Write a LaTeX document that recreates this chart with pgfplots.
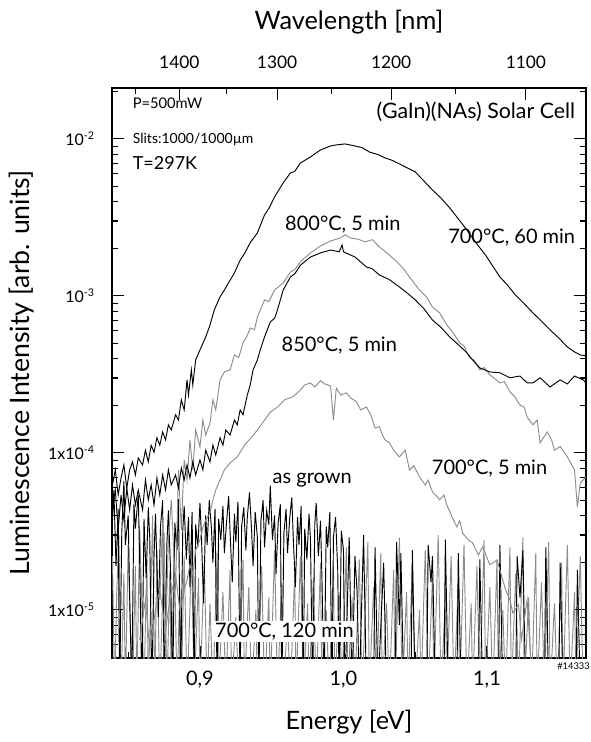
\documentclass[border=0pt]{standalone}
\usepackage{fontspec}
\setmainfont{Lato}
\usepackage{pgfplots}
\pgfplotsset{compat=1.18}
\definecolor{lgray}{gray}{0.55}
\begin{document}
\begin{tikzpicture}
\useasboundingbox (-84pt,-63pt) rectangle (359.25pt,493.5pt);
% top axis: wavelength scale (tick positions = 1239.84/lambda)
\begin{axis}[
  at={(0,0)}, anchor=south west,
  scale only axis, width=355.5pt, height=427.5pt,
  xmin=0.8387, xmax=1.169, ymin=0, ymax=1,
  axis x line*=top, axis y line=none,
  axis line style={line width=1pt},
  tick style={black, line width=0.8pt},
  tick align=inside,
  major tick length=9pt, minor tick length=4.5pt,
  xtick={0.885600,0.953723,1.033200,1.127127},
  xticklabels={1400,1300,1200,1100},
  minor xtick={0.855062,0.918400,0.991872,1.078122},
  xticklabel style={anchor=center, yshift=19.5pt, font=\fontsize{13}{15}\selectfont},
  xlabel={Wavelength [nm]},
  xlabel style={at={(rel axis cs:0.5,1.116)}, anchor=center, font=\fontsize{19}{22}\selectfont},
]
\end{axis}
\begin{axis}[
  at={(0,0)}, anchor=south west,
  scale only axis, width=355.5pt, height=427.5pt,
  xmin=0.8387, xmax=1.169,
  ymode=log, ymin=4.94e-6, ymax=2.11e-2,
  axis line style={line width=1pt},
  tick style={black, line width=0.8pt},
  tick align=inside,
  major tick length=9pt, minor tick length=4.5pt,
  xtick pos=left, ytick pos=both, yticklabel pos=left,
  xtick={0.9,1.0,1.1}, xticklabels={{0,9},{1,0},{1,1}},
  minor xtick={0.85,0.95,1.05,1.15},
  ytick={1e-5,1e-4,1e-3,1e-2},
  yticklabels={1x10\textsuperscript{-5},1x10\textsuperscript{-4},10\textsuperscript{-3},10\textsuperscript{-2}},
  minor ytick={6e-6,7e-6,8e-6,9e-6,2e-5,3e-5,4e-5,5e-5,6e-5,7e-5,8e-5,9e-5,
    2e-4,3e-4,4e-4,5e-4,6e-4,7e-4,8e-4,9e-4,2e-3,3e-3,4e-3,5e-3,6e-3,7e-3,8e-3,9e-3,2e-2},
  xticklabel style={anchor=center, yshift=-16.5pt, font=\fontsize{15}{17}\selectfont},
  yticklabel style={anchor=east, inner sep=0pt, xshift=-12.75pt, font=\fontsize{12}{14}\selectfont},
  xlabel={Energy [eV]},
  xlabel style={at={(rel axis cs:0.5,-0.112)}, anchor=center, font=\fontsize{19}{22}\selectfont},
  ylabel={Luminescence Intensity [arb. units]},
  ylabel style={at={(rel axis cs:-0.19,0.5)}, anchor=center, font=\fontsize{20}{23}\selectfont},
  every axis plot/.append style={line width=0.7pt},
]
% 700 C, 120 min
\addplot[lgray] coordinates {
(0.839,2.2e-5)(0.8405,3.0e-6)(0.842,1.3e-5)(0.8435,3.0e-5)(0.845,3.0e-6)(0.847,1.7e-5)
(0.848,3.0e-6)(0.850,2.6e-5)(0.8515,8.0e-6)(0.853,3.0e-6)(0.855,1.9e-5)(0.856,3.0e-6)
(0.858,3.4e-5)(0.8595,1.1e-5)(0.861,3.0e-6)(0.863,2.1e-5)(0.864,3.0e-6)(0.866,1.5e-5)
(0.867,4.0e-5)(0.8685,3.0e-6)(0.870,2.4e-5)(0.872,3.0e-6)(0.874,1.2e-5)(0.875,3.1e-5)
(0.877,3.0e-6)(0.879,1.8e-5)(0.880,3.0e-6)(0.882,2.7e-5)(0.884,3.0e-6)(0.886,1.4e-5)
(0.887,3.0e-6)(0.889,2.2e-5)(0.891,3.0e-6)(0.893,1.0e-5)(0.894,2.5e-5)(0.896,3.0e-6)
(0.899,1.6e-5)(0.900,3.0e-6)(0.903,2.0e-5)(0.905,3.0e-6)(0.907,1.1e-5)(0.909,3.0e-6)
(0.912,2.3e-5)(0.913,3.0e-6)(0.916,1.3e-5)(0.918,3.0e-6)(0.921,1.8e-5)(0.922,3.0e-6)
(0.925,9.0e-6)(0.927,3.0e-6)(0.930,2.1e-5)(0.931,3.0e-6)(0.934,1.4e-5)(0.936,3.0e-6)
(0.939,1.0e-5)(0.940,3.0e-6)(0.943,1.9e-5)(0.945,3.0e-6)(0.948,1.2e-5)(0.949,3.0e-6)
(0.952,2.4e-5)(0.954,3.0e-6)(0.957,1.5e-5)(0.958,3.0e-6)(0.961,8.5e-6)(0.963,3.0e-6)
(0.966,1.7e-5)(0.967,3.0e-6)(0.970,2.2e-5)(0.972,3.0e-6)(0.975,1.1e-5)(0.976,3.0e-6)
(0.979,1.6e-5)(0.981,3.0e-6)(0.984,2.0e-5)(0.985,3.0e-6)(0.988,1.0e-5)(0.990,3.0e-6)
(0.993,1.9e-5)(0.994,3.0e-6)(0.997,1.3e-5)(0.999,3.0e-6)(1.002,2.5e-5)(1.003,3.0e-6)
(1.006,1.2e-5)(1.008,3.0e-6)(1.011,2.1e-5)(1.013,3.0e-6)(1.015,9.0e-6)(1.017,2.7e-5)
(1.018,3.0e-6)(1.021,1.4e-5)(1.023,3.0e-6)(1.026,2.3e-5)(1.027,3.0e-6)(1.030,1.1e-5)
(1.032,3.0e-6)(1.035,1.8e-5)(1.036,3.0e-6)(1.039,2.9e-5)(1.041,3.0e-6)(1.044,1.3e-5)
(1.045,3.0e-6)(1.048,2.0e-5)(1.050,3.0e-6)(1.053,1.0e-5)(1.054,3.0e-6)(1.057,2.4e-5)
(1.059,3.0e-6)(1.062,1.6e-5)(1.063,3.0e-6)(1.066,3.0e-5)(1.068,3.0e-6)(1.071,1.2e-5)
(1.072,3.0e-6)(1.075,2.2e-5)(1.077,3.0e-6)(1.080,1.5e-5)(1.081,3.0e-6)(1.084,2.6e-5)
(1.086,3.0e-6)(1.089,1.1e-5)(1.090,3.0e-6)(1.093,1.9e-5)(1.095,3.0e-6)(1.098,2.8e-5)
(1.099,3.0e-6)(1.102,1.4e-5)(1.104,3.0e-6)(1.107,2.1e-5)(1.108,3.0e-6)(1.111,1.0e-5)
(1.113,3.0e-6)(1.116,2.5e-5)(1.117,3.0e-6)(1.120,1.7e-5)(1.122,3.0e-6)(1.125,2.9e-5)
(1.126,3.0e-6)(1.129,1.2e-5)(1.131,3.0e-6)(1.134,2.3e-5)(1.135,3.0e-6)(1.138,1.5e-5)
(1.140,3.0e-6)(1.143,2.7e-5)(1.144,3.0e-6)(1.147,1.1e-5)(1.149,3.0e-6)(1.152,2.0e-5)
(1.153,3.0e-6)(1.156,2.6e-5)(1.158,3.0e-6)(1.161,1.3e-5)(1.162,3.0e-6)(1.165,2.2e-5)
(1.167,3.0e-6)
};
% as grown
\addplot[black] coordinates {
(0.839,3.6e-5)(0.840,5.8e-5)(0.8415,1.9e-5)(0.843,4.4e-5)(0.844,3.0e-6)(0.8455,3.1e-5)
(0.847,6.6e-5)(0.848,2.6e-5)(0.850,4.0e-5)(0.851,1.2e-5)(0.8525,3.0e-6)(0.854,4.7e-5)
(0.855,3.3e-5)(0.857,5.4e-5)(0.858,2.0e-5)(0.8595,3.0e-6)(0.861,3.8e-5)(0.8625,1.6e-5)
(0.864,4.5e-5)(0.865,2.9e-5)(0.8665,3.0e-6)(0.868,2.2e-5)(0.869,4.1e-5)(0.871,9.0e-6)
(0.8725,3.4e-5)(0.874,5.0e-5)(0.875,3.0e-6)(0.877,2.7e-5)(0.878,4.3e-5)(0.8795,1.8e-5)
(0.881,3.0e-6)(0.8825,3.6e-5)(0.884,2.4e-5)(0.885,5.1e-5)(0.8865,3.0e-6)(0.888,3.2e-5)
(0.889,4.6e-5)(0.8905,2.1e-5)(0.892,3.9e-5)(0.893,1.4e-5)(0.8945,4.2e-5)(0.896,3.0e-6)
(0.897,3.5e-5)(0.8985,2.5e-5)(0.900,4.8e-5)(0.901,3.0e-5)(0.9025,1.1e-5)(0.904,4.0e-5)
(0.905,2.6e-5)(0.9065,5.0e-5)(0.908,3.3e-5)(0.909,2.0e-5)(0.9105,4.4e-5)(0.912,3.0e-6)
(0.913,3.8e-5)(0.9145,2.8e-5)(0.916,4.6e-5)(0.917,2.3e-5)(0.9185,3.6e-5)(0.920,5.3e-5)
(0.921,3.1e-5)(0.9225,1.5e-5)(0.924,4.1e-5)(0.925,2.7e-5)(0.9265,4.9e-5)(0.928,3.0e-6)
(0.929,3.4e-5)(0.9305,4.5e-5)(0.932,2.4e-5)(0.933,3.9e-5)(0.9345,5.6e-5)(0.936,3.2e-5)
(0.937,1.9e-5)(0.9385,4.2e-5)(0.940,2.9e-5)(0.941,3.0e-6)(0.9425,3.7e-5)(0.944,5.0e-5)
(0.945,2.5e-5)(0.9465,4.3e-5)(0.948,3.5e-5)(0.949,6.2e-5)(0.9505,2.8e-5)(0.952,4.0e-5)
(0.953,1.7e-5)(0.9545,3.6e-5)(0.956,4.7e-5)(0.957,3.0e-6)(0.9585,3.1e-5)(0.960,4.4e-5)
(0.961,2.3e-5)(0.9625,3.8e-5)(0.964,5.2e-5)(0.965,2.9e-5)(0.9665,1.4e-5)(0.968,3.9e-5)
(0.969,2.6e-5)(0.9705,4.6e-5)(0.972,3.0e-6)(0.973,3.3e-5)(0.9745,2.1e-5)(0.976,4.1e-5)
(0.977,2.8e-5)(0.9785,3.0e-6)(0.980,3.5e-5)(0.981,4.8e-5)(0.9825,2.2e-5)(0.984,3.7e-5)
(0.985,1.6e-5)(0.9865,3.0e-6)(0.988,3.4e-5)(0.989,2.5e-5)(0.9905,4.2e-5)(0.992,3.0e-6)
(0.993,2.9e-5)(0.9945,3.9e-5)(0.996,1.8e-5)(0.997,3.0e-6)(0.9985,3.2e-5)(1.000,2.4e-5)
(1.001,3.0e-6)(1.004,2.9e-5)(1.006,3.0e-6)(1.008,2.2e-5)(1.0095,1.3e-5)(1.011,3.0e-6)
(1.014,3.0e-5)(1.016,3.0e-6)(1.021,3.0e-6)(1.022,2.5e-5)(1.024,3.0e-6)(1.028,2.0e-5)
(1.030,3.0e-6)(1.036,3.0e-6)(1.037,2.7e-5)(1.039,8.0e-6)(1.040,2.3e-5)(1.042,3.0e-6)
(1.047,3.0e-6)(1.048,2.4e-5)(1.050,3.0e-6)(1.058,3.0e-6)(1.059,2.6e-5)(1.061,1.5e-5)
(1.062,2.2e-5)(1.064,3.0e-6)(1.070,3.0e-6)(1.071,2.8e-5)(1.073,3.0e-6)(1.079,3.0e-6)
(1.080,2.3e-5)(1.082,3.0e-6)(1.094,3.0e-6)(1.095,2.1e-5)(1.097,3.0e-6)(1.108,3.0e-6)
(1.109,2.6e-5)(1.111,3.0e-6)(1.120,3.0e-6)(1.121,2.2e-5)(1.123,1.2e-5)(1.125,2.4e-5)
(1.127,3.0e-6)(1.140,3.0e-6)(1.141,2.5e-5)(1.143,3.0e-6)(1.150,3.0e-6)(1.151,2.0e-5)
(1.153,3.0e-6)(1.162,3.0e-6)(1.163,1.8e-5)(1.165,3.0e-6)
};
% 700 C, 5 min
\addplot[lgray] coordinates {
(0.858,6.44e-6)(0.862,1.16e-5)(0.865,5.56e-6)(0.869,1.0e-5)(0.872,1.34e-5)(0.876,7.46e-6)
(0.879,1.16e-5)(0.883,1.67e-5)(0.886,1.0e-5)(0.889,1.34e-5)(0.891,1.55e-5)(0.893,1.94e-5)
(0.895,1.67e-5)(0.897,2.41e-5)(0.900,2.79e-5)(0.902,3.33e-5)(0.904,3.74e-5)(0.907,4.15e-5)
(0.909,5.02e-5)(0.911,5.81e-5)(0.914,6.73e-5)(0.917,7.80e-5)(0.921,8.63e-5)(0.926,9.44e-5)
(0.931,1.12e-4)(0.936,1.26e-4)(0.940,1.40e-4)(0.945,1.62e-4)(0.949,1.82e-4)(0.954,1.96e-4)
(0.959,2.18e-4)(0.965,2.28e-4)(0.970,2.52e-4)(0.973,2.71e-4)(0.977,2.79e-4)(0.980,2.63e-4)
(0.984,2.88e-4)(0.987,2.75e-4)(0.991,2.67e-4)(0.993,1.62e-4)(0.995,2.59e-4)(0.998,2.34e-4)
(1.002,2.41e-4)(1.005,2.24e-4)(1.009,2.12e-4)(1.012,1.88e-4)(1.016,1.96e-4)(1.019,1.75e-4)
(1.022,1.44e-4)(1.025,1.47e-4)(1.027,1.31e-4)(1.029,1.21e-4)(1.032,1.16e-4)(1.035,1.04e-4)
(1.039,9.44e-5)(1.043,1.04e-4)(1.046,7.80e-5)(1.049,8.3e-5)(1.053,7.03e-5)(1.057,6.25e-5)
(1.059,6.7e-5)(1.062,5.65e-5)(1.065,5.3e-5)(1.067,5.02e-5)(1.070,5.4e-5)(1.072,4.67e-5)
(1.076,3.85e-5)(1.079,3.38e-5)(1.081,3.7e-5)(1.083,3.09e-5)(1.087,2.79e-5)(1.090,2.67e-5)
(1.094,2.24e-5)(1.097,2.52e-5)(1.102,1.94e-5)(1.107,2.08e-5)(1.109,1.80e-5)(1.113,1.34e-5)
(1.116,1.16e-5)(1.118,9.57e-6)(1.122,1.08e-5)(1.124,6.44e-6)(1.128,1.16e-5)(1.131,4.0e-6)
};
% 800 C, 5 min
\addplot[lgray] coordinates {
(0.872,1.16e-5)(0.874,3.74e-5)(0.876,6.44e-6)(0.878,2.79e-5)(0.880,5.02e-5)(0.883,1.34e-5)
(0.885,7.80e-5)(0.887,3.24e-5)(0.889,9.02e-5)(0.891,6.73e-5)(0.893,1.21e-4)(0.895,7.80e-5)
(0.897,1.40e-4)(0.900,1.09e-4)(0.902,1.62e-4)(0.904,1.30e-4)(0.907,1.55e-4)(0.909,2.18e-4)
(0.911,1.88e-4)(0.914,2.92e-4)(0.917,3.28e-4)(0.921,3.38e-4)(0.924,4.21e-4)(0.927,4.05e-4)
(0.930,5.02e-4)(0.933,5.6e-4)(0.935,6.25e-4)(0.938,6.1e-4)(0.940,7.35e-4)(0.945,9.44e-4)
(0.948,9.2e-4)(0.952,1.09e-3)(0.958,1.21e-3)(0.963,1.42e-3)(0.966,1.47e-3)(0.970,1.65e-3)
(0.977,1.88e-3)(0.984,2.08e-3)(0.991,2.24e-3)(0.998,2.34e-3)(1.001,2.45e-3)(1.005,2.34e-3)
(1.010,2.30e-3)(1.015,2.21e-3)(1.020,2.28e-3)(1.025,2.05e-3)(1.030,1.89e-3)(1.036,1.69e-3)
(1.041,1.52e-3)(1.046,1.32e-3)(1.053,1.09e-3)(1.058,9.8e-4)(1.062,8.51e-4)(1.067,7.8e-4)
(1.072,6.53e-4)(1.076,5.9e-4)(1.081,5.02e-4)(1.084,4.8e-4)(1.088,4.03e-4)(1.091,3.9e-4)
(1.095,3.38e-4)(1.098,3.5e-4)(1.102,3.14e-4)(1.105,3.0e-4)(1.109,2.79e-4)(1.112,2.85e-4)
(1.116,2.45e-4)(1.119,2.3e-4)(1.123,2.02e-4)(1.126,1.95e-4)(1.128,1.69e-4)(1.132,1.51e-4)
(1.135,1.62e-4)(1.137,1.16e-4)(1.142,1.36e-4)(1.145,1.21e-4)(1.147,1.04e-4)(1.151,1.1e-4)
(1.156,9.44e-5)(1.161,7.80e-5)(1.163,4.5e-5)(1.165,6.44e-5)(1.169,7.03e-5)
};
% 850 C, 5 min
\addplot[black] coordinates {
(0.839,4.34e-5)(0.841,5.81e-5)(0.843,3.24e-5)(0.845,5.40e-5)(0.847,3.74e-5)(0.849,5.98e-5)
(0.851,4.34e-5)(0.853,6.25e-5)(0.855,4.67e-5)(0.857,5.81e-5)(0.860,4.34e-5)(0.862,6.73e-5)
(0.864,5.02e-5)(0.866,6.25e-5)(0.868,4.67e-5)(0.870,6.93e-5)(0.872,5.40e-5)(0.874,7.24e-5)
(0.876,5.81e-5)(0.878,7.80e-5)(0.880,6.25e-5)(0.883,7.24e-5)(0.885,5.98e-5)(0.887,8.02e-5)
(0.889,6.73e-5)(0.891,8.39e-5)(0.893,6.93e-5)(0.895,8.77e-5)(0.897,7.24e-5)(0.900,9.02e-5)
(0.902,7.80e-5)(0.904,1.04e-4)(0.907,8.77e-5)(0.909,1.12e-4)(0.911,9.70e-5)(0.914,1.25e-4)
(0.916,1.12e-4)(0.918,1.40e-4)(0.921,1.30e-4)(0.924,1.62e-4)(0.926,1.51e-4)(0.928,1.88e-4)
(0.930,1.75e-4)(0.933,2.34e-4)(0.935,2.71e-4)(0.937,3.38e-4)(0.940,3.91e-4)(0.942,4.53e-4)
(0.945,5.48e-4)(0.949,6.83e-4)(0.952,7.2e-4)(0.954,8.15e-4)(0.958,1.09e-3)(0.963,1.32e-3)
(0.966,1.38e-3)(0.970,1.57e-3)(0.977,1.77e-3)(0.984,1.88e-3)(0.991,1.96e-3)(0.997,1.91e-3)
(0.999,2.11e-3)(1.000,1.91e-3)(1.008,1.77e-3)(1.016,1.53e-3)(1.020,1.49e-3)(1.025,1.36e-3)
(1.032,1.27e-3)(1.039,1.14e-3)(1.044,1.05e-3)(1.050,9.44e-4)(1.056,8.3e-4)(1.062,7.03e-4)
(1.068,6.3e-4)(1.074,5.48e-4)(1.080,4.9e-4)(1.086,4.34e-4)(1.090,3.91e-4)(1.095,3.48e-4)
(1.102,3.28e-4)(1.109,3.24e-4)(1.116,3.01e-4)(1.123,3.09e-4)(1.128,2.79e-4)(1.132,2.79e-4)
(1.137,3.01e-4)(1.144,2.63e-4)(1.151,2.92e-4)(1.156,2.75e-4)(1.161,3.09e-4)(1.167,2.92e-4)
(1.169,2.79e-4)
};
% 700 C, 60 min
\addplot[black] coordinates {
(0.839,6.25e-5)(0.841,7.80e-5)(0.843,5.40e-5)(0.845,6.93e-5)(0.847,8.39e-5)(0.849,5.98e-5)
(0.851,7.80e-5)(0.853,8.77e-5)(0.855,7.24e-5)(0.857,9.29e-5)(0.860,8.39e-5)(0.862,1.04e-4)
(0.864,8.77e-5)(0.866,1.12e-4)(0.868,1.01e-4)(0.870,1.25e-4)(0.872,1.12e-4)(0.874,1.36e-4)
(0.876,1.21e-4)(0.878,1.51e-4)(0.880,1.40e-4)(0.883,1.75e-4)(0.885,1.62e-4)(0.887,2.18e-4)
(0.889,1.88e-4)(0.891,2.92e-4)(0.892,2.34e-4)(0.894,3.38e-4)(0.895,2.71e-4)(0.897,3.91e-4)
(0.900,4.53e-4)(0.904,5.48e-4)(0.907,6.53e-4)(0.910,8.15e-4)(0.914,9.86e-4)(0.917,1.09e-3)
(0.921,1.26e-3)(0.924,1.40e-3)(0.928,1.69e-3)(0.931,1.86e-3)(0.935,2.18e-3)(0.940,2.52e-3)
(0.945,3.28e-3)(0.948,3.6e-3)(0.952,4.27e-3)(0.958,5.25e-3)(0.963,6.07e-3)(0.966,6.2e-3)
(0.970,7.03e-3)(0.977,7.68e-3)(0.984,8.51e-3)(0.991,9.02e-3)(0.995,9.16e-3)(1.001,9.29e-3)
(1.008,9.02e-3)(1.013,8.8e-3)(1.018,8.26e-3)(1.024,7.95e-3)(1.029,7.57e-3)(1.034,7.3e-3)
(1.039,6.93e-3)(1.045,6.5e-3)(1.050,6.17e-3)(1.056,5.4e-3)(1.062,4.73e-3)(1.068,4.2e-3)
(1.074,3.64e-3)(1.080,3.1e-3)(1.086,2.63e-3)(1.092,2.2e-3)(1.099,1.82e-3)(1.104,1.55e-3)
(1.109,1.32e-3)(1.114,1.18e-3)(1.120,1.01e-3)(1.126,8.9e-4)(1.132,7.80e-4)(1.138,6.9e-4)
(1.144,6.07e-4)(1.150,5.4e-4)(1.156,4.73e-4)(1.161,4.40e-4)(1.165,4.21e-4)(1.169,4.15e-4)
};
% annotations
\node[anchor=west, font=\fontsize{11}{13}\selectfont] at (rel axis cs:0.034,0.974) {P=500mW};
\node[anchor=west, font=\fontsize{10.5}{12}\selectfont] at (rel axis cs:0.034,0.909) {Slits:1000/1000µm};
\node[anchor=west, font=\fontsize{13.5}{15}\selectfont] at (rel axis cs:0.034,0.868) {T=297K};
\node[anchor=east, font=\fontsize{16}{18}\selectfont] at (rel axis cs:0.987,0.958) {(GaIn)(NAs) Solar Cell};
\node[font=\fontsize{15}{17}\selectfont] at (rel axis cs:0.487,0.760) {800°C, 5 min};
\node[anchor=east, font=\fontsize{15}{17}\selectfont] at (rel axis cs:0.987,0.737) {700°C, 60 min};
\node[anchor=west, font=\fontsize{15}{17}\selectfont] at (rel axis cs:0.348,0.549) {850°C, 5 min};
\node[anchor=west, font=\fontsize{15}{17}\selectfont] at (rel axis cs:0.665,0.333) {700°C, 5 min};
\node[anchor=west, font=\fontsize{15}{17}\selectfont] at (rel axis cs:0.329,0.312) {as grown};
\node[anchor=west, fill=white, inner sep=1.5pt, font=\fontsize{15}{17}\selectfont] at (rel axis cs:0.213,0.046) {700°C, 120 min};
\end{axis}
\node[anchor=north east, inner sep=0pt, font=\fontsize{7}{8}\selectfont] at (358.5pt,-3pt) {\#14333};
\end{tikzpicture}
\end{document}
